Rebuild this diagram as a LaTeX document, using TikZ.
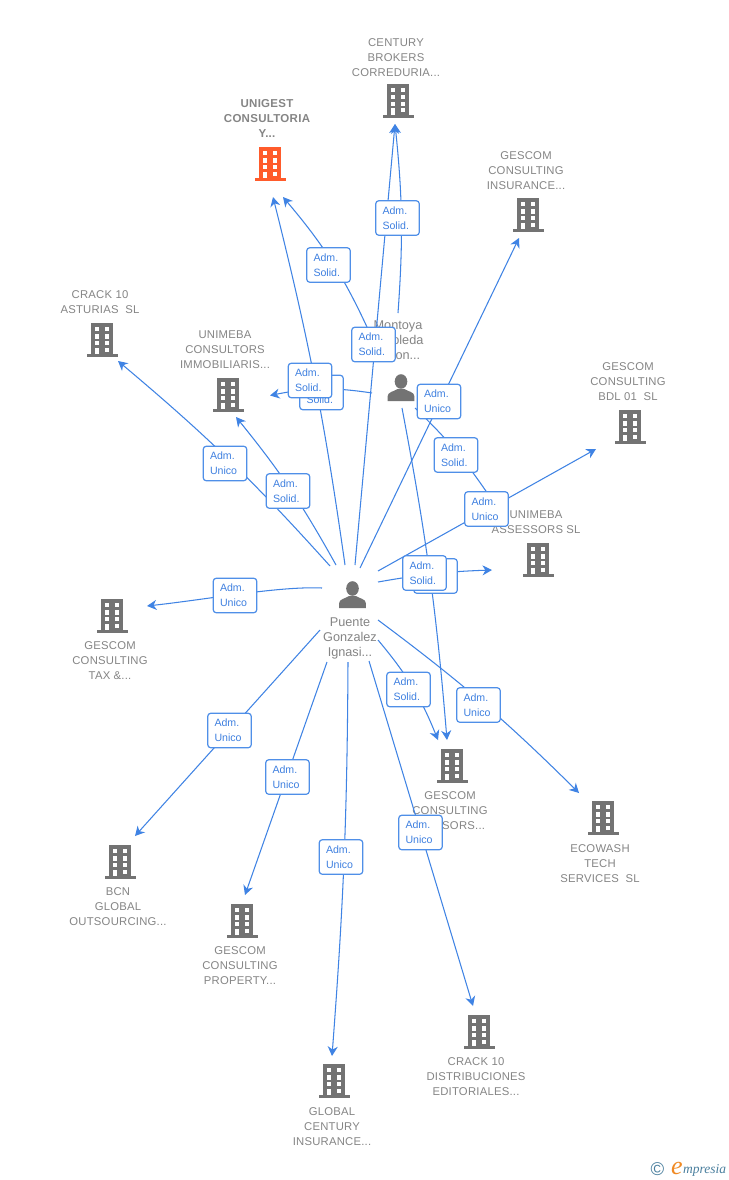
\documentclass[tikz,border=0pt]{standalone}
\usepackage{fontspec}
\setmainfont{Liberation Sans}
\newfontfamily\logofont{Liberation Serif}
\usetikzlibrary{arrows.meta}
\definecolor{linkblue}{HTML}{3F83E4}
\definecolor{boxblue}{HTML}{4F8FE8}
\definecolor{txtblue}{HTML}{3F80E0}
\definecolor{txtgray}{HTML}{858585}
\definecolor{icongray}{HTML}{737373}
\definecolor{iconorange}{HTML}{FF5B2B}
\definecolor{logoblue}{HTML}{4A7F9E}
\definecolor{logoorange}{HTML}{F08A24}
\tikzset{
  link/.style={draw=linkblue,line width=1.05pt,-{Stealth[length=9.5pt,width=10pt,inset=3pt]}},
  plainlink/.style={draw=linkblue,line width=1.05pt},
  tag/.style={draw=boxblue,line width=1.2pt,fill=white,rounded corners=3pt,minimum width=43.5pt,minimum height=34.5pt,
    text width=30pt,inner xsep=6.7pt,inner ysep=0pt,align=left,text=txtblue,font=\fontsize{10.6}{15}\selectfont},
  co/.style={text=txtgray,align=center,inner sep=0pt,font=\fontsize{11.3}{15}\selectfont\addfontfeature{LetterSpace=2}},
  cobold/.style={co,font=\fontsize{11.5}{15}\selectfont\bfseries\addfontfeature{LetterSpace=2.5}},
  pers/.style={text=txtgray,align=center,inner sep=0pt,font=\fontsize{12.7}{15}\selectfont},
  bldg/.pic={
    \fill[#1] (-11,-17) rectangle (11,14);
    \fill[#1] (-15.5,14) rectangle (15.5,17);
    \fill[white] (-7,-13) rectangle (-2.7,-9);
    \fill[white] (3,-13) rectangle (7.3,-9);
    \fill[white] (-7,-6) rectangle (-2.7,-1.5);
    \fill[white] (3,-6) rectangle (7.3,-1.5);
    \fill[white] (-7,1) rectangle (-2.7,5);
    \fill[white] (3,1) rectangle (7.3,5);
    \fill[white] (-7,7.5) rectangle (-2.7,14);
    \fill[white] (3,7.5) rectangle (7.3,11.5);
  },
  person/.pic={
    \fill[icongray] (0,-6.5) ellipse (6.3 and 7.3);
    \fill[icongray] (-13.3,13) -- (-13.3,8) .. controls (-13.3,4) and (-7,3.5) .. (-3.5,1) -- (3.5,1) .. controls (7,3.5) and (13.3,4) .. (13.3,8) -- (13.3,13) -- cycle;
  }
}
\begin{document}
\begin{tikzpicture}[x=1pt,y=-1pt]
\useasboundingbox (0,0) rectangle (728,1180);
\fill[white] (0,0) rectangle (728,1180);

% company and person texts
\node[cobold] (tUnigest) at (267,118) {UNIGEST\\CONSULTORIA\\Y...};
\node[co] (tCentury) at (396,57.5) {CENTURY\\BROKERS\\CORREDURIA...};
\node[co] (tInsur) at (526,171) {GESCOM\\CONSULTING\\INSURANCE...};
\node[co] (tAsturias) at (100,302.5) {CRACK 10\\ASTURIAS\ \ SL};
\node[co] (tConsultors) at (225,350) {UNIMEBA\\CONSULTORS\\IMMOBILIARIS...};
\node[co] (tBdl) at (628,382) {GESCOM\\CONSULTING\\BDL 01\ \ SL};
\node[co] (tAssessors) at (536,522.5) {UNIMEBA\\ASSESSORS SL};
\node[co] (tTax) at (110,661) {GESCOM\\CONSULTING\\TAX \&...};
\node[co] (tAdvisors) at (450,811) {GESCOM\\CONSULTING\\ADVISORS...};
\node[co] (tEcowash) at (600,864) {ECOWASH\\TECH\\SERVICES\ \ SL};
\node[co] (tBcn) at (118,907) {BCN\\GLOBAL\\OUTSOURCING...};
\node[co] (tProperty) at (240,966) {GESCOM\\CONSULTING\\PROPERTY...};
\node[co] (tGlobal) at (332,1127) {GLOBAL\\CENTURY\\INSURANCE...};
\node[co] (tDistrib) at (476,1077) {CRACK 10\\DISTRIBUCIONES\\EDITORIALES...};
\node[pers] (tMontoya) at (398,340) {Montoya\\Arboleda\\Baron...};
\node[pers] (tPuente) at (350,638) {Puente\\Gonzalez\\Ignasi...};

% icons
\pic (unigest) at (270,164) {bldg=iconorange};
\pic (century) at (398,101) {bldg=icongray};
\pic (insur) at (528,215) {bldg=icongray};
\pic (asturias) at (102,340) {bldg=icongray};
\pic (consultors) at (228,395) {bldg=icongray};
\pic (bdl) at (630,427) {bldg=icongray};
\pic (assessors) at (538,560) {bldg=icongray};
\pic (tax) at (112,616) {bldg=icongray};
\pic (advisors) at (452,766) {bldg=icongray};
\pic (ecowash) at (603,818) {bldg=icongray};
\pic (bcn) at (120,862) {bldg=icongray};
\pic (property) at (242,921) {bldg=icongray};
\pic (global) at (334,1081) {bldg=icongray};
\pic (distrib) at (479,1032) {bldg=icongray};
\pic (montoya) at (401,388) {person};
\pic (puente) at (352.5,595) {person};

% connector ends
\coordinate (inUnigestA) at (273,197);
\coordinate (inUnigestB) at (283,197);
\coordinate (inCentury) at (395,124);
\coordinate (inInsur) at (519,238);
\coordinate (inAsturias) at (118,361);
\coordinate (inConsultors) at (236,417);
\coordinate (inConsultorsB) at (270,395.5);
\coordinate (inBdl) at (596,449);
\coordinate (inAssessors) at (492,570);
\coordinate (inTax) at (147,606);
\coordinate (inAdvisorsA) at (438,740);
\coordinate (inAdvisorsB) at (447,740);
\coordinate (inEcowash) at (579,793);
\coordinate (inBcn) at (135,836);
\coordinate (inProperty) at (245,895);
\coordinate (inGlobal) at (332,1056);
\coordinate (inDistrib) at (473,1006);
\coordinate (endMontoya) at (490,497);
% connector starts
\coordinate (pA) at (345,565);
\coordinate (pB) at (355,565);
\coordinate (pC) at (360,568);
\coordinate (pD) at (378,571);
\coordinate (pE) at (378,582);
\coordinate (pF) at (378,620);
\coordinate (pG) at (378,640);
\coordinate (pH) at (369,661);
\coordinate (pI) at (348,662);
\coordinate (pJ) at (327,662);
\coordinate (pK) at (320,630);
\coordinate (pL) at (322,588);
\coordinate (pM) at (336,565);
\coordinate (pN) at (330,566);
\coordinate (mA) at (398,313);
\coordinate (mB) at (372,338);
\coordinate (mC) at (372,393);
\coordinate (mD) at (402,408);
\coordinate (mE) at (415,408);

% connectors
\draw[link] (pA) to[bend right=3] (inUnigestA);
\draw[link] (pB) -- (inCentury);
\draw[link] (pC) -- (inInsur);
\draw[link] (pD) -- (inBdl);
\draw[link] (pE) to[bend left=4] (inAssessors);
\draw[link] (pF) to[bend left=4] (inEcowash);
\draw[link] (pG) to[bend left=9] (inAdvisorsA);
\draw[link] (pH) -- (inDistrib);
\draw[link] (pI) to[bend left=2] (inGlobal);
\draw[link] (pJ) -- (inProperty);
\draw[link] (pK) -- (inBcn);
\draw[link] (pL) .. controls (280,586) and (210,599) .. (inTax);
\draw[link] (pM) to[bend right=5] (inConsultors);
\draw[link] (pN) to[bend right=4] (inAsturias);
\draw[link] (mA) to[bend right=5] (inCentury);
\draw[link] (mB) to[bend right=8] (inUnigestB);
\draw[link] (mC) to[bend right=10] (inConsultorsB);
\draw[link] (mD) to[bend left=3] (inAdvisorsB);
\draw[plainlink] (mE) to[bend left=6] (endMontoya);

% relation tags
\node[tag] (lb1) at (328.5,265) {Adm.\\Solid.};
\node[tag] (lb2) at (397.5,218) {Adm.\\Solid.};
\node[tag] (lb3) at (373.5,344.5) {Adm.\\Solid.};
\node[tag] (lb4) at (321.5,392.5) {Adm.\\Solid.};
\node[tag] (lb5) at (310,380.5) {Adm.\\Solid.};
\node[tag] (lb6) at (439,401.5) {Adm.\\Unico};
\node[tag] (lb7) at (456,455) {Adm.\\Solid.};
\node[tag] (lb8) at (486.5,509) {Adm.\\Unico};
\node[tag] (lb9) at (435.5,576) {Adm.\\Unico};
\node[tag] (lb10) at (424.5,573) {Adm.\\Solid.};
\node[tag] (lb11) at (235,595.5) {Adm.\\Unico};
\node[tag] (lb12) at (225,463.5) {Adm.\\Unico};
\node[tag] (lb13) at (288,491) {Adm.\\Solid.};
\node[tag] (lb14) at (408.5,689.5) {Adm.\\Solid.};
\node[tag] (lb15) at (478.5,705) {Adm.\\Unico};
\node[tag] (lb16) at (229.5,730.5) {Adm.\\Unico};
\node[tag] (lb17) at (287.5,777) {Adm.\\Unico};
\node[tag] (lb18) at (341,857) {Adm.\\Unico};
\node[tag] (lb19) at (420.5,832.5) {Adm.\\Unico};

% logo
\node[text=logoblue,inner sep=0pt,font=\fontsize{18.5}{18}\selectfont] (logoc) at (657.5,1169) {©};
\node[text=logoorange,inner sep=0pt,font=\logofont\itshape\fontsize{26}{26}\selectfont] (logoe) at (677,1168) {e};
\node[text=logoblue,inner sep=0pt,anchor=west,font=\logofont\itshape\fontsize{13.5}{14}\selectfont] (logot) at (683,1170) {mpresia};
\end{tikzpicture}
\end{document}
